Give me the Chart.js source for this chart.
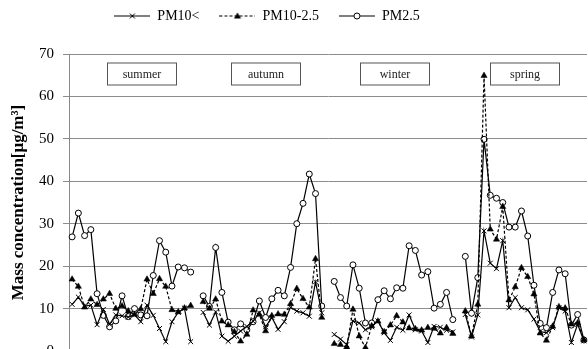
<!DOCTYPE html>
<html lang="en">
<head>
    <meta charset="UTF-8">
    <title>Mass concentration by season</title>
    <script src="https://cdn.jsdelivr.net/npm/chart.js"></script>
    <style>
        html, body { margin: 0; padding: 0; background: #fff; overflow: hidden; }
        .wrap { width: 588px; height: 349px; overflow: hidden; position: relative; }
        #chart { position: absolute; left: 0; top: 0; }
    </style>
</head>
<body>
    <div class="wrap">
        <canvas id="chart" width="592" height="369"></canvas>
    </div>

    <script>
        // sampling days, null marks the break between seasons
        const days = Array.from({ length: 83 }, (_, i) => String(i + 1));

        const pm10 = [
            11.0, 12.7, 10.6, 10.8, 6.2, 9.8, 6.3, 8.5, 8.3, 8.0, 8.5, 6.9, 10.8, 8.4, 5.3, 2.2, 6.9, 9.1, 10.1, 2.2,
            null,
            9.1, 6.1, 9.2, 3.5, 2.3, 3.5, 4.7, 5.8, 7.0, 9.0, 5.7, 7.9, 5.1, 6.9, 10.3, 9.4, 9.0, 8.2, 16.3, 9.0,
            null,
            3.9, 2.8, 1.5, 7.1, 6.6, 5.0, 5.7, 7.1, 4.3, 2.5, 5.6, 4.9, 8.5, 5.0, 4.7, 2.0, 5.8, 5.6, 4.9, 4.5,
            null,
            8.6, 3.3, 8.5, 28.3, 20.7, 19.4, 26.0, 10.2, 12.6, 10.2, 9.7, 7.5, 4.6, 4.3, 5.5, 10.2, 9.4, 2.0, 6.3, 2.4
        ];
        const pmCoarse = [
            16.9, 15.2, 10.3, 12.2, 10.9, 12.2, 13.5, 10.0, 10.6, 9.4, 8.6, 9.9, 16.9, 13.5, 17.0, 15.2, 9.7, 9.2, 10.1, 10.7,
            null,
            11.6, 10.0, 12.2, 7.0, 6.1, 4.5, 2.3, 3.9, 9.6, 8.6, 4.7, 8.3, 8.7, 8.6, 11.1, 14.7, 12.3, 10.3, 21.7, 7.9,
            null,
            1.7, 1.5, 0.9, 9.8, 3.5, 0.8, 5.9, 7.0, 4.5, 6.1, 8.3, 6.8, 5.4, 5.2, 4.9, 5.5, 5.3, 4.2, 5.5, 4.1,
            null,
            9.4, 3.5, 11.0, 64.9, 28.7, 26.3, 34.0, 12.0, 15.1, 19.6, 17.5, 13.4, 4.2, 2.5, 5.8, 10.4, 10.1, 6.3, 6.6, 2.6
        ];
        const pmFine = [
            26.9, 32.5, 27.2, 28.6, 13.5, 8.4, 5.7, 7.1, 13.0, 8.1, 10.0, 8.5, 8.3, 17.8, 26.0, 23.3, 15.3, 19.8, 19.6, 18.6,
            null,
            13.0, 10.5, 24.4, 13.8, 6.8, 5.0, 6.4, 5.0, 6.9, 11.8, 7.9, 12.3, 14.3, 13.0, 19.7, 30.0, 34.8, 41.7, 37.1, 10.6,
            null,
            16.4, 12.6, 10.6, 20.3, 14.8, 6.6, 6.6, 12.1, 14.2, 12.3, 14.9, 14.8, 24.8, 23.7, 17.9, 18.7, 10.1, 11.0, 13.8, 7.4,
            null,
            22.3, 8.9, 17.3, 49.9, 36.7, 36.0, 35.0, 29.2, 29.2, 33.0, 27.1, 15.5, 6.5, 5.5, 13.8, 19.1, 18.2, 6.1, 8.6, 2.6
        ];

        const seriesNames = ['PM10<', 'PM10-2.5', 'PM2.5'];
        const seasons = ['summer', 'autumn', 'winter', 'spring'];
        const yTicks = [0, 10, 20, 30, 40, 50, 60, 70];

        const serif = '"Liberation Serif", "Times New Roman", serif';

        // little line+marker pictures for the legend
        function legendSample(kind) {
            const c = document.createElement('canvas');
            c.width = 36;
            c.height = 10;
            const g = c.getContext('2d');
            g.strokeStyle = '#000';
            g.fillStyle = '#000';
            g.lineWidth = 1.2;
            if (kind === 'tri') g.setLineDash([3, 2]);
            g.beginPath();
            g.moveTo(0, 5);
            g.lineTo(36, 5);
            g.stroke();
            g.setLineDash([]);
            g.lineWidth = 1;
            if (kind === 'cross') {
                g.beginPath();
                g.moveTo(15.5, 2.5); g.lineTo(20.5, 7.5);
                g.moveTo(20.5, 2.5); g.lineTo(15.5, 7.5);
                g.stroke();
            } else if (kind === 'tri') {
                g.beginPath();
                g.moveTo(18, 1.5); g.lineTo(21.5, 7.5); g.lineTo(14.5, 7.5);
                g.closePath();
                g.fill();
            } else {
                g.beginPath();
                g.arc(18, 5, 3, 0, Math.PI * 2);
                g.fillStyle = '#fff';
                g.fill();
                g.stroke();
            }
            return c;
        }
        const samples = [legendSample('cross'), legendSample('tri'), legendSample('circle')];

        // legend sits a bit left of centre and leaves a gap above the plot
        const legendTweak = {
            id: 'legendTweak',
            beforeInit(chart) {
                const fit = chart.legend.fit;
                chart.legend.fit = function () {
                    fit.call(this);
                    this.height += 21;
                };
            },
            afterLayout(chart) {
                chart.legend.left -= 29;
                chart.legend.right -= 29;
            }
        };

        const seasonBoxes = {
            id: 'seasonBoxes',
            beforeDatasetsDraw(chart) {
                const { ctx, scales } = chart;
                const centers = [11.2, 31.1, 51.7, 72.6];
                ctx.save();
                ctx.font = '12px ' + serif;
                ctx.textAlign = 'center';
                ctx.textBaseline = 'middle';
                seasons.forEach((name, i) => {
                    const cx = Math.round(scales.x.getPixelForValue(centers[i]));
                    const cy = Math.round(scales.y.getPixelForValue(65.2));
                    ctx.fillStyle = '#fff';
                    ctx.fillRect(cx - 35, cy - 11.5, 70, 23);
                    ctx.strokeStyle = '#555';
                    ctx.lineWidth = 1;
                    ctx.strokeRect(cx - 34.5, cy - 11, 69, 22);
                    ctx.fillStyle = '#222';
                    ctx.fillText(name, cx, cy + 1);
                });
                ctx.restore();
            }
        };

        const common = {
            borderColor: '#000',
            borderWidth: 1.2,
            spanGaps: false,
            tension: 0
        };

        new Chart(document.getElementById('chart'), {
            type: 'line',
            data: {
                labels: days,
                datasets: [
                    Object.assign({}, common, {
                        label: seriesNames[0],
                        data: pm10,
                        pointStyle: 'crossRot',
                        pointRadius: 3.5,
                        pointBorderWidth: 1,
                        pointBorderColor: '#000'
                    }),
                    Object.assign({}, common, {
                        label: seriesNames[1],
                        data: pmCoarse,
                        borderDash: [3, 2],
                        pointStyle: 'triangle',
                        pointRadius: 3.6,
                        pointBackgroundColor: '#000',
                        pointBorderColor: '#000',
                        pointBorderWidth: 0.5
                    }),
                    Object.assign({}, common, {
                        label: seriesNames[2],
                        data: pmFine,
                        pointStyle: 'circle',
                        pointRadius: 3,
                        pointBackgroundColor: '#fff',
                        pointBorderColor: '#000',
                        pointBorderWidth: 1
                    })
                ]
            },
            options: {
                responsive: false,
                animation: false,
                layout: { padding: { top: -11, bottom: 1, left: 0, right: 0 } },
                plugins: {
                    tooltip: { enabled: false },
                    legend: {
                        position: 'top',
                        labels: {
                            usePointStyle: true,
                            pointStyleWidth: 36,
                            padding: 20,
                            color: '#000',
                            font: { family: serif, size: 14 },
                            generateLabels: chart => seriesNames.map((name, i) => ({
                                text: name,
                                datasetIndex: i,
                                pointStyle: samples[i],
                                fillStyle: '#000',
                                strokeStyle: '#000',
                                lineWidth: 0,
                                hidden: false
                            }))
                        }
                    }
                },
                scales: {
                    x: {
                        display: false,
                        offset: true
                    },
                    y: {
                        min: 0,
                        max: 70,
                        afterFit: s => { s.width = 69; },
                        afterBuildTicks: s => { s.ticks = yTicks.map(v => ({ value: v })); },
                        border: { color: '#888', width: 1 },
                        grid: { color: '#8c8c8c', lineWidth: 1, tickLength: 6 },
                        ticks: {
                            color: '#000',
                            padding: 9,
                            font: { family: serif, size: 15 }
                        },
                        title: {
                            display: true,
                            text: 'Mass concentration[μg/m³]',
                            color: '#000',
                            padding: { top: 8 },
                            font: { family: serif, size: 17, weight: 'bold' }
                        }
                    }
                }
            },
            plugins: [legendTweak, seasonBoxes]
        });
    </script>
</body>
</html>
